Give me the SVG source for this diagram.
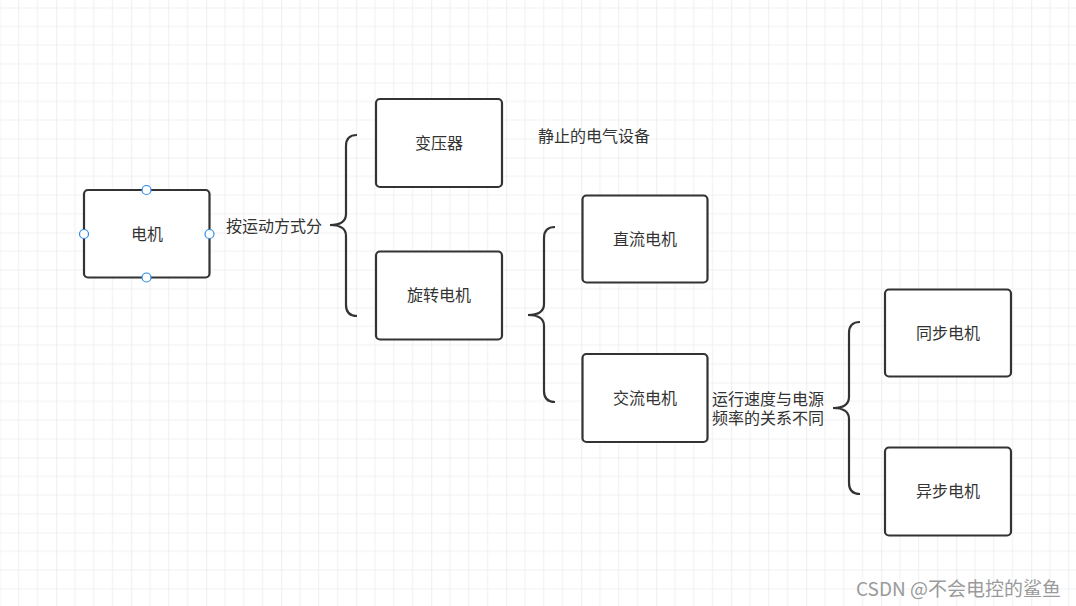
<svg xmlns="http://www.w3.org/2000/svg" width="1076" height="606" viewBox="0 0 1076 606">
<defs>
<pattern id="grid" patternUnits="userSpaceOnUse" x="56.25" y="7.5" width="75" height="75">
<path d="M18.75 0V75M37.5 0V75M56.25 0V75M0 18.75H75M0 37.5H75M0 56.25H75" stroke="#f0f0f0" stroke-width="1" fill="none"/>
<path d="M0 0V75M0 0H75" stroke="#e3e3e3" stroke-width="1.2" fill="none"/>
</pattern>
</defs>
<style>
.box{fill:#fff;stroke:#333;stroke-width:2.2}
.t{font-family:"Microsoft YaHei","Noto Sans CJK SC",sans-serif;font-size:16px;fill:#333}
.c{text-anchor:middle;dominant-baseline:central}
.brace{fill:none;stroke:#333;stroke-width:2.2}
.h{fill:#fff;stroke:#2a8ae6;stroke-width:1.2}
</style>
<rect width="1076" height="606" fill="#fff"/>
<rect width="1076" height="606" fill="url(#grid)"/>
<g id="connectors">
<path class="brace" d="M357 135C350 135 346 138 346 146L346 214C346 222 340 225 330 225C340 225 346 228 346 236L346 305C346 313 350 316 357 316"/>
<path class="brace" d="M555 227C548 227 544 230 544 238L544 304C544 312 538 315 528 315C538 315 544 318 544 326L544 391C544 399 548 402 555 402"/>
<path class="brace" d="M860 322C853 322 849 325 849 333L849 397C849 405 843 408 833 408C843 408 849 411 849 419L849 483C849 491 853 494 860 494"/>
</g>
<g id="n-dianji">
<rect class="box" x="84" y="190" width="125.5" height="87.5" rx="4"/>
<text class="t c" x="147" y="232.5">电机</text>
<circle class="h" cx="146.5" cy="190" r="4.5"/>
<circle class="h" cx="84" cy="234" r="4.5"/>
<circle class="h" cx="209.5" cy="234" r="4.5"/>
<circle class="h" cx="146.5" cy="277.5" r="4.5"/>
</g>
<g id="l-fen"><text class="t" x="226" y="224.5" dominant-baseline="central">按运动方式分</text></g>
<g id="n-bianyaqi">
<rect class="box" x="376" y="99" width="126" height="88" rx="4"/>
<text class="t c" x="439" y="141.5">变压器</text>
</g>
<g id="l-jingzhi"><text class="t" x="538" y="134.5" dominant-baseline="central">静止的电气设备</text></g>
<g id="n-xuanzhuan">
<rect class="box" x="376" y="251.5" width="126" height="88" rx="4"/>
<text class="t c" x="439" y="294">旋转电机</text>
</g>
<g id="n-zhiliu">
<rect class="box" x="582.5" y="195.5" width="125" height="87" rx="4"/>
<text class="t c" x="645" y="237.5">直流电机</text>
</g>
<g id="n-jiaoliu">
<rect class="box" x="582.5" y="354" width="125" height="88" rx="4"/>
<text class="t c" x="645" y="396.5">交流电机</text>
</g>
<g id="l-sudu">
<text class="t" x="712" y="397.5" dominant-baseline="central">运行速度与电源</text>
<text class="t" x="712" y="417" dominant-baseline="central">频率的关系不同</text>
</g>
<g id="n-tongbu">
<rect class="box" x="885" y="289.5" width="126" height="87" rx="4"/>
<text class="t c" x="948" y="331.5">同步电机</text>
</g>
<g id="n-yibu">
<rect class="box" x="885" y="447.5" width="126" height="88" rx="4"/>
<text class="t c" x="948" y="490">异步电机</text>
</g>
<text x="1061" y="587" text-anchor="end" dominant-baseline="central" style="font-family:'Microsoft YaHei','Noto Sans CJK SC',sans-serif;font-size:19px;fill:#9a9a9a">CSDN @不会电控的鲨鱼</text>
</svg>
